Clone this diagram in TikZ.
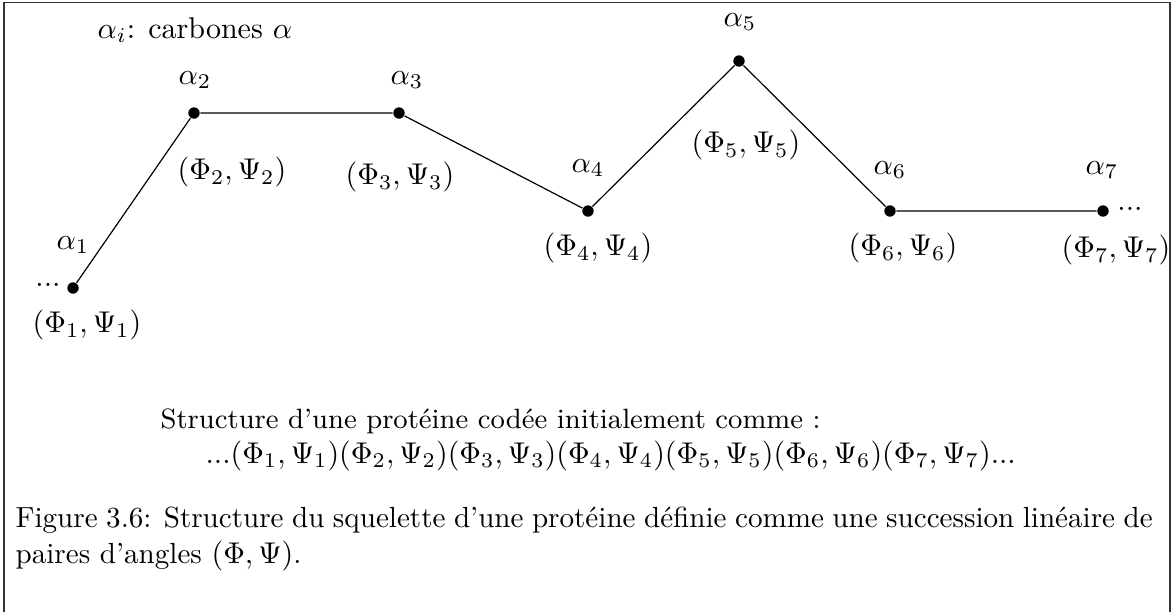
\documentclass[tikz,border=0pt]{standalone}
\usepackage{amsmath}
\begin{document}
\begin{tikzpicture}[x=0.3333pt,y=-0.3333pt,
  dot/.style={circle,fill=black,inner sep=0pt,minimum size=3.8pt},
  lab/.style={inner sep=0pt},
  link/.style={line width=0.4pt}]
\useasboundingbox (0,0) rectangle (1172,612);
\draw[line width=0.6pt,black!80] (4,612) -- (4,2.5) -- (1170,2.5) -- (1170,612);

% legend
\node[lab,anchor=west] (legend) at (97,30) {$\alpha_i$: carbones $\alpha$};

% carbons
\node[dot] (c1) at (73,288) {};
\node[dot] (c2) at (194,113) {};
\node[dot] (c3) at (399,113) {};
\node[dot] (c4) at (588,211) {};
\node[dot] (c5) at (739,61) {};
\node[dot] (c6) at (890,211) {};
\node[dot] (c7) at (1103,211) {};

\draw[link] (c1) -- (c2) -- (c3) -- (c4) -- (c5) -- (c6) -- (c7);

% alpha labels
\node[lab] (a1) at (73,245) {$\alpha_1$};
\node[lab] (a2) at (195,80) {$\alpha_2$};
\node[lab] (a3) at (407,80) {$\alpha_3$};
\node[lab] (a4) at (588,168) {$\alpha_4$};
\node[lab] (a5) at (740,22) {$\alpha_5$};
\node[lab] (a6) at (890,170) {$\alpha_6$};
\node[lab] (a7) at (1102,170) {$\alpha_7$};

% dots
\node[lab] (d1) at (48,285) {...};
\node[lab] (d7) at (1130,209) {...};

% angle pairs
\node[lab] (p1) at (87,325) {$(\Phi_1,\Psi_1)$};
\node[lab] (p2) at (232,172) {$(\Phi_2,\Psi_2)$};
\node[lab] (p3) at (400,177) {$(\Phi_3,\Psi_3)$};
\node[lab] (p4) at (598,248) {$(\Phi_4,\Psi_4)$};
\node[lab] (p5) at (746,145) {$(\Phi_5,\Psi_5)$};
\node[lab] (p6) at (903,248) {$(\Phi_6,\Psi_6)$};
\node[lab] (p7) at (1116,250) {$(\Phi_7,\Psi_7)$};

% coding text
\node[lab,anchor=base west] (code1) at (160,428) {\fontsize{9.3pt}{11pt}\selectfont Structure d’une protéine codée initialement comme :};
\node[lab,anchor=base west] (code2) at (205,463) {...$(\Phi_1,\Psi_1)(\Phi_2,\Psi_2)(\Phi_3,\Psi_3)(\Phi_4,\Psi_4)(\Phi_5,\Psi_5)(\Phi_6,\Psi_6)(\Phi_7,\Psi_7)$...};

% caption
\node[lab,anchor=base west] (cap1) at (15,527)
  {\fontsize{9.7pt}{12pt}\selectfont\makebox[379pt][s]{Figure 3.6: Structure du squelette d’une protéine définie comme une succession linéaire de}};
\node[lab,anchor=base west] (cap2) at (15,563) {\fontsize{9.7pt}{12pt}\selectfont paires d’angles $(\Phi,\Psi)$.};
\end{tikzpicture}
\end{document}
